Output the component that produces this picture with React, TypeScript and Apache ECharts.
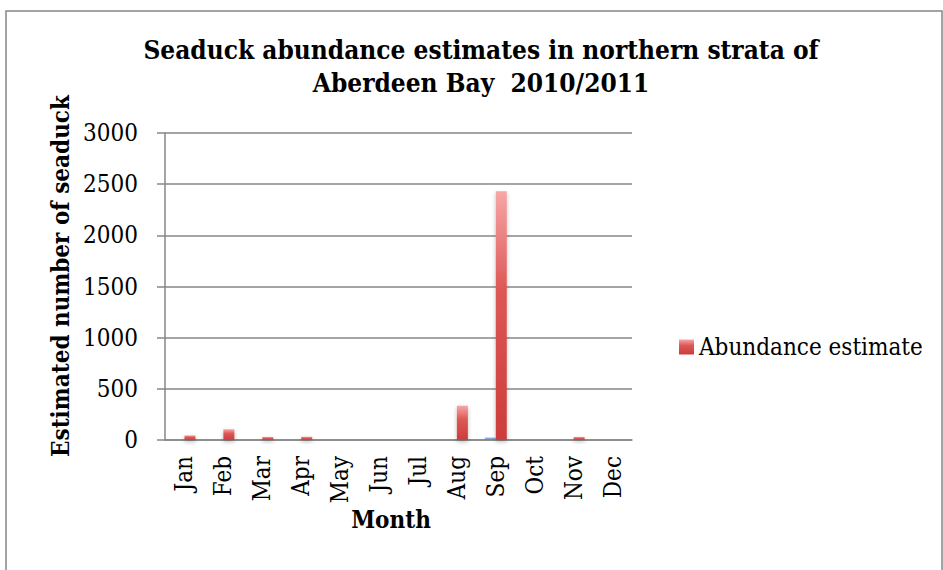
import React, { useEffect, useRef } from "react";
import * as echarts from "echarts";

const months = ["Jan", "Feb", "Mar", "Apr", "May", "Jun", "Jul", "Aug", "Sep", "Oct", "Nov", "Dec"];
// Seaduck counts per survey month (blank months: no estimate)
const abundance: (number | null)[] = [45, 105, 30, 32, null, null, null, 335, 2430, null, 30, null];
// Secondary unlabelled series
const secondary: (number | null)[] = [null, null, null, null, null, null, null, null, 25, null, null, null];
const yTicks = { min: 0, max: 3000, interval: 500 };

const FONT = '"DejaVu Serif Condensed", "Liberation Serif", serif';
const GRID = "#878787";

export default function App() {
  const ref = useRef<HTMLDivElement>(null);

  useEffect(() => {
    if (!ref.current) return;
    const chart = echarts.init(ref.current, undefined, { renderer: "svg" });

    const redFill = new echarts.graphic.LinearGradient(0, 0, 0, 1, [
      { offset: 0, color: "#f7a6a6" },
      { offset: 0.4, color: "#dc5855" },
      { offset: 1, color: "#cc3d3a" },
    ]);
    const blueFill = new echarts.graphic.LinearGradient(0, 0, 0, 1, [
      { offset: 0, color: "#a9c3ea" },
      { offset: 1, color: "#4f81bd" },
    ]);

    chart.setOption({
      animation: false,
      backgroundColor: "#ffffff",
      textStyle: { fontFamily: FONT, color: "#000" },
      grid: { left: 165, top: 133, width: 467, height: 307, containLabel: false },
      legend: {
        data: ["Abundance estimate"],
        left: 674,
        top: 330,
        itemWidth: 15,
        itemHeight: 15,
        icon: "rect",
        textStyle: { fontFamily: FONT, fontSize: 24, color: "#000" },
      },
      xAxis: {
        type: "category",
        data: months,
        axisLine: { lineStyle: { color: GRID, width: 1.5 } },
        axisTick: { show: false },
        axisLabel: {
          rotate: 90,
          margin: 16,
          fontFamily: FONT,
          fontSize: 24,
          color: "#000",
          interval: 0,
        },
      },
      yAxis: {
        type: "value",
        min: yTicks.min,
        max: yTicks.max,
        interval: yTicks.interval,
        axisLine: { show: true, lineStyle: { color: GRID, width: 1.5 } },
        axisTick: { show: true, length: 8, lineStyle: { color: GRID, width: 1.5 } },
        splitLine: { lineStyle: { color: GRID, width: 1.5 } },
        axisLabel: {
          margin: 27,
          fontFamily: FONT,
          fontSize: 24,
          color: "#000",
          formatter: (v: number) => String(v),
        },
      },
      series: [
        {
          name: "",
          type: "bar",
          data: secondary,
          barWidth: 11,
          barGap: "0%",
          itemStyle: { color: blueFill },
        },
        {
          name: "Abundance estimate",
          type: "bar",
          data: abundance,
          barWidth: 11,
          barGap: "0%",
          itemStyle: {
            color: redFill,
            shadowBlur: 4,
            shadowOffsetY: 2,
            shadowColor: "rgba(0,0,0,0.25)",
          },
        },
      ],
      graphic: [
        {
          type: "rect",
          shape: { x: 6, y: 11, width: 936, height: 570 },
          style: { fill: "none", stroke: GRID, lineWidth: 1.5 },
          silent: true,
        },
        {
          type: "text",
          x: 481,
          y: 50,
          style: {
            text: "Seaduck abundance estimates in northern strata of",
            font: `bold 26px ${FONT}`,
            fill: "#000",
            align: "center",
            verticalAlign: "middle",
          },
        },
        {
          type: "text",
          x: 481,
          y: 83,
          style: {
            text: "Aberdeen Bay  2010/2011",
            font: `bold 26px ${FONT}`,
            fill: "#000",
            align: "center",
            verticalAlign: "middle",
          },
        },
        {
          type: "text",
          x: 60,
          y: 276,
          rotation: Math.PI / 2,
          style: {
            text: "Estimated number of seaduck",
            font: `bold 24px ${FONT}`,
            fill: "#000",
            align: "center",
            verticalAlign: "middle",
          },
        },
        {
          type: "text",
          x: 391,
          y: 519,
          style: {
            text: "Month",
            font: `bold 24px ${FONT}`,
            fill: "#000",
            align: "center",
            verticalAlign: "middle",
          },
        },
      ],
    });

    return () => chart.dispose();
  }, []);

  return (
    <div
      ref={ref}
      style={{ position: "absolute", left: 0, top: 0, width: 943, height: 570 }}
    />
  );
}
